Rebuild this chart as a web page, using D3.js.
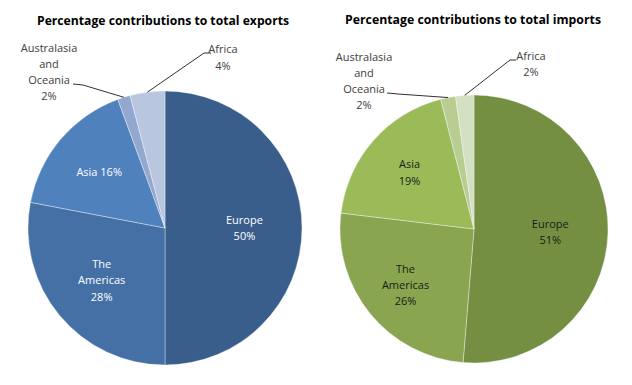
<!DOCTYPE html>
<html><head><meta charset="utf-8">
<script src="https://cdn.jsdelivr.net/npm/d3@7"></script>
<style>
html,body{margin:0;padding:0;background:#fff;}
svg text{font-family:"Open Sans","Noto Sans",sans-serif;}
</style></head>
<body><svg id="c" width="632" height="385"></svg>
<script>
// ---- data ----
const regions = ["Europe", "The Americas", "Asia", "Australasia and Oceania", "Africa"];
const exportsValues = [50.0, 28.0, 16.4, 1.5, 4.1];
const importsValues = [51.3, 25.6, 19.1, 1.8, 2.2];
const exportsTitle = "Percentage contributions to total exports";
const importsTitle = "Percentage contributions to total imports";
// label line breaks (the % line is appended)
const exportsLabelLines = [["Europe"], ["The", "Americas"], ["Asia"], ["Australasia", "and", "Oceania"], ["Africa"]];
const importsLabelLines = [["Europe"], ["The", "Americas"], ["Asia"], ["Australasia", "and", "Oceania"], ["Africa"]];
const exportsPctInline = [false, false, true, false, false];
const importsPctInline = [false, false, false, false, false];
const exportsColors = ["#3a5e8c", "#4470a6", "#4f81bd", "#93a8cf", "#b9c6df"];
const importsColors = ["#748f42", "#89a54f", "#9bbb59", "#b9cd93", "#d3e0c1"];

const svg = d3.select("#c");

function drawPie(cfg) {
  const g = svg.append("g").attr("transform", `translate(${cfg.cx},${cfg.cy})`);
  const pie = d3.pie().sort(null).value(d => d.v).startAngle(0).endAngle(2 * Math.PI);
  const data = cfg.values.map((v, i) => ({v, i}));
  const arcs = pie(data);
  const arc = d3.arc().innerRadius(0).outerRadius(cfg.r);
  g.selectAll("path.slice").data(arcs).enter().append("path")
    .attr("class", "slice")
    .attr("d", arc)
    .attr("fill", d => cfg.colors[d.data.i])
    .attr("stroke", "rgba(255,255,255,0.45)")
    .attr("stroke-width", 0.8);

  // title
  svg.append("text")
    .attr("x", cfg.cx + cfg.titleDx).attr("y", cfg.titleY)
    .attr("text-anchor", "middle")
    .attr("font-weight", "bold").attr("font-size", 12.5)
    .attr("fill", "#000")
    .attr("textLength", cfg.titleLen).attr("lengthAdjust", "spacingAndGlyphs")
    .text(cfg.title);

  const lh = 16.3;
  arcs.forEach(a => {
    const i = a.data.i;
    const pct = Math.round(a.data.v) + "%";
    let lines = cfg.labelLines[i].slice();
    if (cfg.pctInline[i]) lines[lines.length - 1] += " " + pct; else lines.push(pct);
    const mid = (a.startAngle + a.endAngle) / 2;
    const out = cfg.outside[i];
    let x, y, fill;
    if (out) {
      x = out.lx; y = out.ly; fill = "#404040";
      const ex = Math.sin(mid) * cfg.r, ey = -Math.cos(mid) * cfg.r;
      g.append("polyline")
        .attr("points", [[ex, ey], out.knee, out.end].map(p => p.join(",")).join(" "))
        .attr("fill", "none").attr("stroke", "#1a1a1a").attr("stroke-width", 0.9);
    } else {
      const rr = cfg.r * cfg.labelR[i];
      x = Math.sin(mid) * rr; y = -Math.cos(mid) * rr; fill = cfg.inColor;
    }
    const t = g.append("text").attr("text-anchor", "middle").attr("font-size", 11).attr("fill", fill);
    const y0 = y - (lines.length - 1) * lh / 2;
    lines.forEach((s, k) => {
      t.append("tspan").attr("x", x).attr("y", y0 + k * lh).attr("dy", "0.36em").text(s);
    });
  });
}

drawPie({
  cx: 165, cy: 228, r: 137,
  values: exportsValues, colors: exportsColors,
  labelLines: exportsLabelLines, pctInline: exportsPctInline,
  title: exportsTitle, titleY: 25, titleDx: -2, titleLen: 252,
  inColor: "#ffffff",
  labelR: [0.58, 0.6, 0.63, 0, 0],
  outside: {
    3: {lx: -116, ly: -156, knee: [-82, -143], end: [-92, -144]},
    4: {lx: 58, ly: -170.5, knee: [39, -175], end: [46, -175]}
  }
});

drawPie({
  cx: 474, cy: 229, r: 134,
  values: importsValues, colors: importsColors,
  labelLines: importsLabelLines, pctInline: importsPctInline,
  title: importsTitle, titleY: 24, titleDx: -1, titleLen: 256,
  inColor: "#1a1a1a",
  labelR: [0.57, 0.66, 0.64, 0, 0],
  outside: {
    3: {lx: -110, ly: -148, knee: [-76, -135], end: [-87, -136]},
    4: {lx: 57, ly: -165, knee: [36, -169], end: [42, -169]}
  }
});
</script></body></html>
